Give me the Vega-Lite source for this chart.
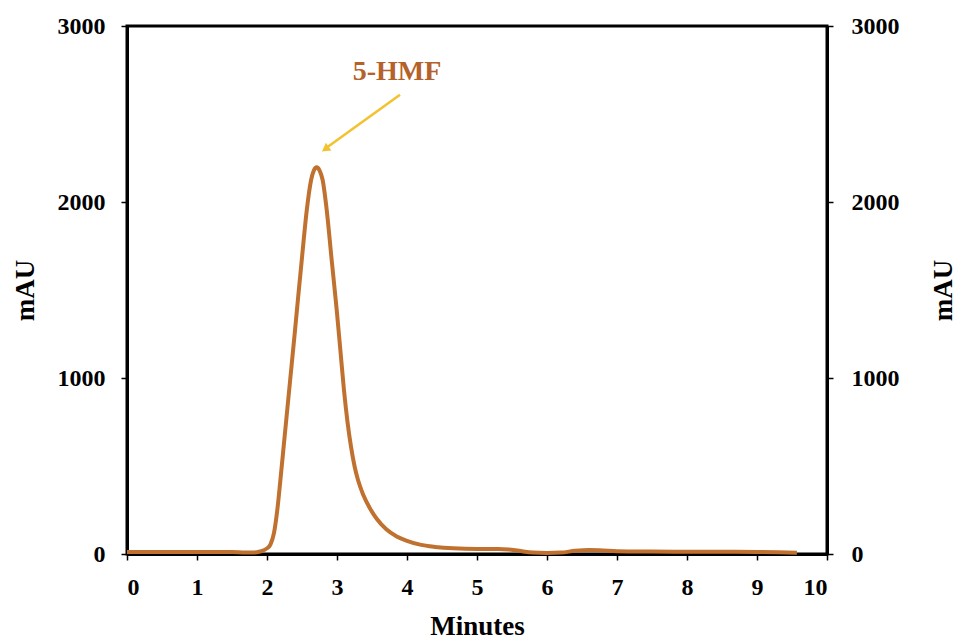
{
  "$schema": "https://vega.github.io/schema/vega-lite/v6.json",
  "width": 700,
  "height": 528,
  "autosize": "none",
  "padding": {"left": 127, "top": 26, "right": 131, "bottom": 87},
  "background": "white",
  "config": {
    "view": {"stroke": "black", "strokeWidth": 3},
    "axis": {
      "labelFont": "Liberation Serif",
      "labelFontWeight": "bold",
      "labelFontSize": 24,
      "labelColor": "black",
      "titleFont": "Liberation Serif",
      "titleFontWeight": "bold",
      "titleFontSize": 27,
      "titleColor": "black",
      "domainColor": "black",
      "domainWidth": 3,
      "tickColor": "black",
      "tickWidth": 1.5,
      "tickSize": 6,
      "grid": false
    }
  },
  "datasets": {
    "curve": [
      {"min": 0.0, "mAU": 12}, {"min": 0.5, "mAU": 12}, {"min": 1.0, "mAU": 12},
      {"min": 1.5, "mAU": 11}, {"min": 1.7, "mAU": 8}, {"min": 1.8, "mAU": 8},
      {"min": 1.9, "mAU": 14}, {"min": 2.0, "mAU": 32}, {"min": 2.05, "mAU": 55},
      {"min": 2.1, "mAU": 120}, {"min": 2.15, "mAU": 260}, {"min": 2.19, "mAU": 415},
      {"min": 2.25, "mAU": 660}, {"min": 2.33, "mAU": 985}, {"min": 2.4, "mAU": 1270},
      {"min": 2.45, "mAU": 1480}, {"min": 2.5, "mAU": 1685}, {"min": 2.57, "mAU": 1960},
      {"min": 2.63, "mAU": 2125}, {"min": 2.67, "mAU": 2180}, {"min": 2.71, "mAU": 2197},
      {"min": 2.75, "mAU": 2180}, {"min": 2.795, "mAU": 2125}, {"min": 2.853, "mAU": 1955},
      {"min": 2.924, "mAU": 1670}, {"min": 2.996, "mAU": 1386}, {"min": 3.05, "mAU": 1150},
      {"min": 3.1, "mAU": 930}, {"min": 3.15, "mAU": 750}, {"min": 3.2, "mAU": 610},
      {"min": 3.25, "mAU": 500}, {"min": 3.3, "mAU": 420}, {"min": 3.376, "mAU": 335},
      {"min": 3.47, "mAU": 260}, {"min": 3.567, "mAU": 200}, {"min": 3.7, "mAU": 142},
      {"min": 3.853, "mAU": 100}, {"min": 4.0, "mAU": 75}, {"min": 4.186, "mAU": 53},
      {"min": 4.4, "mAU": 40}, {"min": 4.66, "mAU": 32}, {"min": 5.0, "mAU": 29},
      {"min": 5.3, "mAU": 29}, {"min": 5.45, "mAU": 26}, {"min": 5.6, "mAU": 18},
      {"min": 5.8, "mAU": 8}, {"min": 6.0, "mAU": 6}, {"min": 6.2, "mAU": 8},
      {"min": 6.4, "mAU": 18}, {"min": 6.6, "mAU": 23}, {"min": 6.8, "mAU": 20},
      {"min": 7.0, "mAU": 16}, {"min": 7.5, "mAU": 14}, {"min": 8.0, "mAU": 13},
      {"min": 8.5, "mAU": 13}, {"min": 9.0, "mAU": 12}, {"min": 9.3, "mAU": 10},
      {"min": 9.57, "mAU": 7}
    ],
    "arrow": [
      {"min": 3.9, "mAU": 2610, "min2": 2.84, "mAU2": 2305}
    ],
    "head": [
      {"min": 2.833, "mAU": 2301}
    ],
    "label": [
      {"min": 3.857, "mAU": 2736, "text": "5-HMF"}
    ]
  },
  "layer": [
    {
      "data": {"name": "curve"},
      "mark": {"type": "line", "color": "#C0712F", "strokeWidth": 4, "interpolate": "monotone"},
      "encoding": {
        "x": {"field": "min", "type": "quantitative", "scale": {"domain": [0, 10], "nice": false},
          "axis": {"title": "Minutes", "values": [0,1,2,3,4,5,6,7,8,9,10], "format": "d", "labelPadding": 15, "titlePadding": 14}},
        "y": {"field": "mAU", "type": "quantitative", "scale": {"domain": [0, 3000], "nice": false},
          "axis": {"title": "mAU", "orient": "left", "values": [0,1000,2000,3000], "format": "d", "labelPadding": 16, "titlePadding": 18}}
      }
    },
    {
      "data": {"name": "curve"},
      "mark": {"type": "line", "opacity": 0},
      "encoding": {
        "x": {"field": "min", "type": "quantitative", "axis": null},
        "y": {"field": "mAU", "type": "quantitative",
          "axis": {"title": "mAU", "orient": "right", "values": [0,1000,2000,3000], "format": "d", "labelPadding": 18, "titleAngle": 270, "titleBaseline": "bottom", "titlePadding": 58}}
      }
    },
    {
      "data": {"name": "arrow"},
      "mark": {"type": "rule", "color": "#F2C230", "strokeWidth": 2.5},
      "encoding": {
        "x": {"field": "min", "type": "quantitative", "axis": null},
        "y": {"field": "mAU", "type": "quantitative", "axis": null},
        "x2": {"field": "min2"},
        "y2": {"field": "mAU2"}
      }
    },
    {
      "data": {"name": "head"},
      "mark": {"type": "point", "shape": "triangle-up", "filled": true, "color": "#F2C230", "size": 90, "angle": 234, "opacity": 1},
      "encoding": {
        "x": {"field": "min", "type": "quantitative", "axis": null},
        "y": {"field": "mAU", "type": "quantitative", "axis": null}
      }
    },
    {
      "data": {"name": "label"},
      "mark": {"type": "text", "font": "Liberation Serif", "fontWeight": "bold", "fontSize": 28, "color": "#B5622A", "align": "center", "baseline": "middle"},
      "encoding": {
        "x": {"field": "min", "type": "quantitative", "axis": null},
        "y": {"field": "mAU", "type": "quantitative", "axis": null},
        "text": {"field": "text"}
      }
    }
  ],
  "resolve": {"axis": {"x": "independent", "y": "independent"}}
}
